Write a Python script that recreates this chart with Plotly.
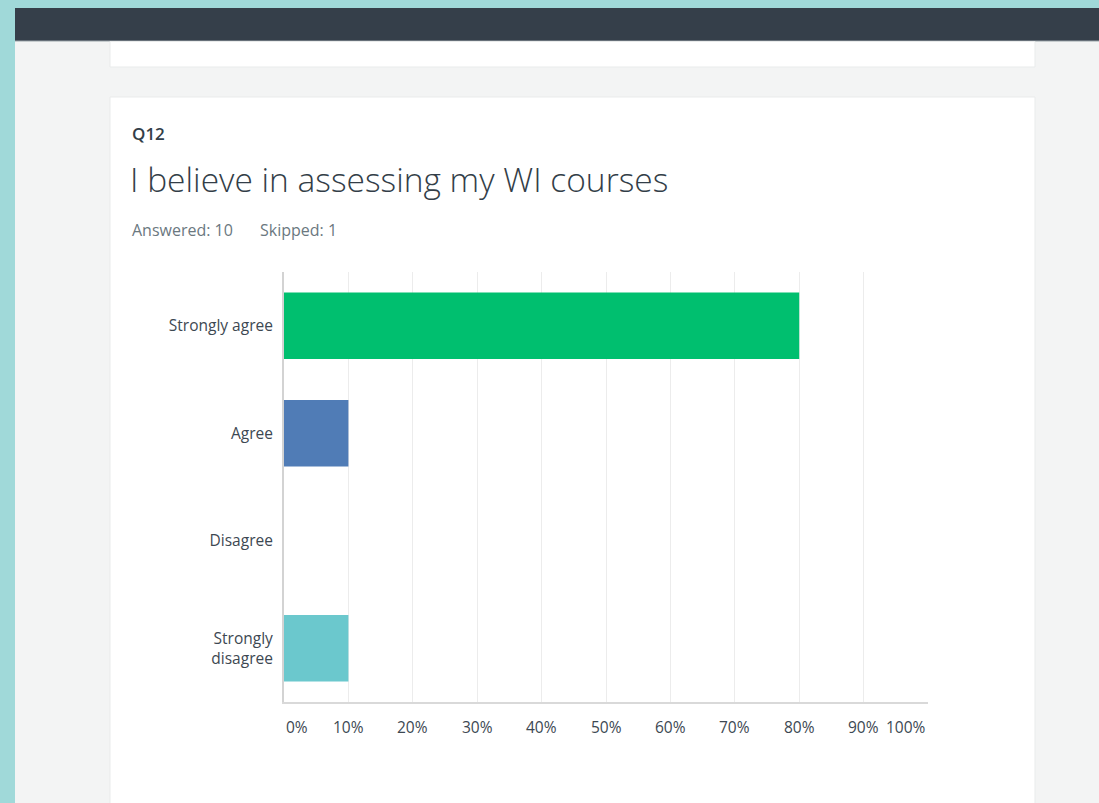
import plotly.graph_objects as go

W, H = 1099, 803

categories = ["Strongly agree", "Agree", "Disagree", "Strongly<br>disagree"]
values = [80, 10, 0, 10]
bar_colors = ["#00bf6f", "#507cb6", "#f5f5f5", "#6bc8cd"]
tick_values = [0, 10, 20, 30, 40, 50, 60, 70, 80, 90, 100]
tick_labels = ["0%", "10%", "20%", "30%", "40%", "50%", "60%", "70%", "80%", "90%", "100%"]

question_id = "Q12"
question_text = "I believe in assessing my WI courses"
answered_text = "Answered: 10"
skipped_text = "Skipped: 1"


def px(x):
    return x / W


def py(y):
    return 1 - y / H


FONT = "Open Sans"
TEXT = "#333e48"
LABEL = "#3d4852"
MUTED = "#6b787f"

fig = go.Figure()
fig.add_trace(go.Bar(
    x=values,
    y=categories,
    orientation="h",
    width=0.62,
    marker=dict(color=bar_colors, line=dict(width=0)),
    hoverinfo="x+y",
))

shapes = [
    dict(type="rect", xref="paper", yref="paper", x0=0, x1=1, y0=0, y1=1,
         fillcolor="#a0d9d9", line=dict(width=0), layer="below"),
    dict(type="rect", xref="paper", yref="paper", x0=px(15), x1=1, y0=0, y1=py(41),
         fillcolor="#f3f4f4", line=dict(width=0), layer="below"),
    dict(type="rect", xref="paper", yref="paper", x0=px(15), x1=1, y0=py(41), y1=py(8),
         fillcolor="#353f4a", line=dict(width=0), layer="below"),
    dict(type="line", xref="paper", yref="paper", x0=px(15), x1=1, y0=py(41), y1=py(41),
         line=dict(color="#9aa3a8", width=1), layer="below"),
    dict(type="rect", xref="paper", yref="paper", x0=px(110), x1=px(1035), y0=py(67), y1=py(41.5),
         fillcolor="#ffffff", line=dict(color="#e9ebeb", width=1), layer="below"),
    dict(type="rect", xref="paper", yref="paper", x0=px(110), x1=px(1035), y0=py(805), y1=py(97),
         fillcolor="#ffffff", line=dict(color="#e9ebeb", width=1), layer="below"),
]

annotations = [
    dict(text=question_id, xref="paper", yref="paper", x=px(130), y=py(133),
         xanchor="left", yanchor="middle", showarrow=False,
         font=dict(family=FONT, size=17, color=TEXT, weight=600)),
    dict(text=question_text, xref="paper", yref="paper", x=px(128), y=py(179),
         xanchor="left", yanchor="middle", showarrow=False,
         font=dict(family=FONT, size=33.5, color=TEXT, weight=300)),
    dict(text=answered_text, xref="paper", yref="paper", x=px(130), y=py(230),
         xanchor="left", yanchor="middle", showarrow=False,
         font=dict(family=FONT, size=16, color=MUTED)),
    dict(text=skipped_text, xref="paper", yref="paper", x=px(258), y=py(230),
         xanchor="left", yanchor="middle", showarrow=False,
         font=dict(family=FONT, size=16, color=MUTED)),
]

for i, (v, lab) in enumerate(zip(tick_values, tick_labels)):
    anchor = "left" if i == 0 else ("right" if i == len(tick_values) - 1 else "center")
    annotations.append(dict(
        text=lab, xref="x", yref="paper", x=v, y=py(727),
        xanchor=anchor, yanchor="middle", showarrow=False,
        font=dict(family=FONT, size=15.5, color=LABEL)))

fig.update_layout(
    width=W, height=H,
    margin=dict(l=0, r=0, t=0, b=0),
    paper_bgcolor="#ffffff",
    plot_bgcolor="rgba(0,0,0,0)",
    showlegend=False,
    shapes=shapes,
    annotations=annotations,
    font=dict(family=FONT, color=TEXT),
    xaxis=dict(
        domain=[px(284), px(928)],
        range=[0, 100],
        tickvals=tick_values,
        showticklabels=False,
        showgrid=True, gridcolor="#ececec", gridwidth=1,
        zeroline=False,
        showline=True, linecolor="#d9d9d9", linewidth=2,
        fixedrange=True,
    ),
    yaxis=dict(
        domain=[py(702), py(272)],
        categoryorder="array",
        categoryarray=categories[::-1],
        showgrid=False,
        zeroline=False,
        showline=True, linecolor="#d3d3d3", linewidth=2,
        ticks="outside", ticklen=6, tickcolor="rgba(0,0,0,0)",
        tickfont=dict(family=FONT, size=15.5, color=LABEL),
        fixedrange=True,
    ),
)

fig.write_html(
    "out.html",
    config={"displayModeBar": False},
    post_script="document.body.style.margin='0';document.body.style.padding='0';"
                "document.documentElement.style.overflow='hidden';document.body.style.overflow='hidden';",
)
